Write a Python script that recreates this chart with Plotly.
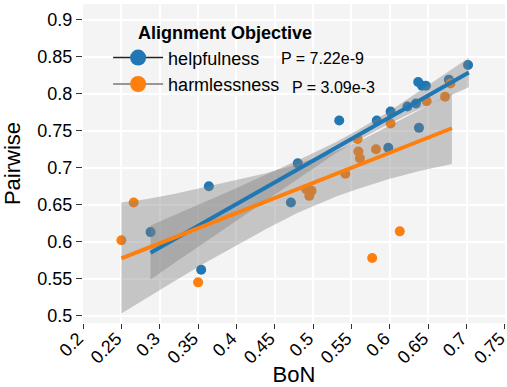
import plotly.graph_objects as go

# ---- data ----
help_x = [0.288, 0.364, 0.354, 0.480, 0.471, 0.534, 0.583, 0.598, 0.601, 0.623, 0.634, 0.638, 0.637, 0.642, 0.647, 0.677, 0.702]
help_y = [0.613, 0.675, 0.562, 0.706, 0.653, 0.764, 0.764, 0.727, 0.776, 0.783, 0.787, 0.754, 0.816, 0.811, 0.811, 0.819, 0.839]

harm_x = [0.250, 0.266, 0.350, 0.491, 0.498, 0.495, 0.542, 0.558, 0.559, 0.561, 0.582, 0.601, 0.648, 0.672, 0.679, 0.577, 0.613]
harm_y = [0.602, 0.653, 0.545, 0.671, 0.669, 0.662, 0.692, 0.739, 0.722, 0.713, 0.725, 0.760, 0.790, 0.796, 0.814, 0.578, 0.614]

help_fit_x = [0.288, 0.703]
help_fit_y = [0.585, 0.829]
harm_fit_x = [0.250, 0.681]
harm_fit_y = [0.5775, 0.7535]

help_band_x = [0.288, 0.32, 0.35, 0.39, 0.42, 0.46, 0.49, 0.53, 0.56, 0.60, 0.63, 0.67, 0.703]
help_band_lo = [0.549, 0.572, 0.593, 0.622, 0.643, 0.671, 0.692, 0.720, 0.738, 0.760, 0.775, 0.794, 0.809]
help_band_hi = [0.622, 0.636, 0.650, 0.668, 0.682, 0.701, 0.715, 0.735, 0.752, 0.777, 0.798, 0.826, 0.849]

harm_band_x = [0.250, 0.28, 0.32, 0.36, 0.40, 0.44, 0.48, 0.53, 0.56, 0.60, 0.64, 0.681]
harm_band_lo = [0.503, 0.522, 0.547, 0.572, 0.595, 0.618, 0.639, 0.661, 0.672, 0.685, 0.696, 0.705]
harm_band_hi = [0.653, 0.657, 0.665, 0.674, 0.683, 0.693, 0.705, 0.723, 0.736, 0.757, 0.779, 0.801]

series_names = ["helpfulness", "harmlessness"]
legend_title = "Alignment Objective"
p_labels = ["P = 7.22e-9", "P = 3.09e-3"]
x_ticks = [0.2, 0.25, 0.3, 0.35, 0.4, 0.45, 0.5, 0.55, 0.6, 0.65, 0.7, 0.75]
y_ticks = [0.5, 0.55, 0.6, 0.65, 0.7, 0.75, 0.8, 0.85, 0.9]

BLUE = "#1f77b4"
ORANGE = "#ff7f0e"
BAND = "rgba(128,128,128,0.4)"
FONT = "Liberation Sans, Arial, sans-serif"

fig = go.Figure()

# points first (bands drawn over them)
for xs, ys, c in [(help_x, help_y, BLUE), (harm_x, harm_y, ORANGE)]:
    fig.add_trace(go.Scatter(x=xs, y=ys, mode="markers", showlegend=False,
                             marker=dict(color=c, size=10, line=dict(width=0))))

# confidence bands
for bx, lo, hi in [(help_band_x, help_band_lo, help_band_hi), (harm_band_x, harm_band_lo, harm_band_hi)]:
    fig.add_trace(go.Scatter(x=bx + bx[::-1], y=hi + lo[::-1], mode="lines", fill="toself",
                             fillcolor=BAND, line=dict(width=0), showlegend=False, hoverinfo="skip"))

# fitted lines
for fx, fy, c in [(help_fit_x, help_fit_y, BLUE), (harm_fit_x, harm_fit_y, ORANGE)]:
    fig.add_trace(go.Scatter(x=fx, y=fy, mode="lines", showlegend=False,
                             line=dict(color=c, width=4)))

# legend entries
for name, c, lc in [(series_names[0], BLUE, "#222222"), (series_names[1], ORANGE, "#777777")]:
    fig.add_trace(go.Scatter(x=[None], y=[None], mode="lines+markers", name=name,
                             marker=dict(color=c, size=16), line=dict(color=lc, width=1.5)))

fig.add_annotation(x=0.126, y=0.909, xref="paper", yref="paper", text="<b>" + legend_title + "</b>",
                   showarrow=False, xanchor="left", yanchor="middle", font=dict(size=18))
fig.add_annotation(x=0.4656, y=0.829, xref="paper", yref="paper", text=p_labels[0],
                   showarrow=False, xanchor="left", yanchor="middle", font=dict(size=16))
fig.add_annotation(x=0.4916, y=0.738, xref="paper", yref="paper", text=p_labels[1],
                   showarrow=False, xanchor="left", yanchor="middle", font=dict(size=16))

fig.update_layout(
    width=507, height=387,
    margin=dict(l=83, r=2, t=4, b=64),
    paper_bgcolor="white", plot_bgcolor="#f4f4f4",
    font=dict(family=FONT, size=18, color="black"),
    legend=dict(x=0.0595, y=0.889, xanchor="left", yanchor="top",
                bgcolor="rgba(0,0,0,0)", itemwidth=50,
                font=dict(size=18), tracegroupgap=0),
    xaxis=dict(range=[0.1999, 0.7502], tickvals=x_ticks, ticktext=[f"{v:g}" for v in x_ticks],
               tickangle=-45, ticks="outside", ticklen=5, tickcolor="#333", tickwidth=1,
               ticklabeloverflow="allow", ticklabelshift=-5, ticklabelstandoff=-8,
               showgrid=True, gridcolor="white", gridwidth=1.5, zeroline=False,
               automargin=False, title=dict(text="BoN", standoff=12)),
    yaxis=dict(range=[0.490, 0.9216], tickvals=y_ticks, ticktext=[f"{v:g}" for v in y_ticks],
               ticks="outside", ticklen=6, tickcolor="#333", tickwidth=1,
               showgrid=True, gridcolor="white", gridwidth=1.5, zeroline=False,
               automargin=False, title=dict(text="Pairwise")),
)

fig.write_html("out.html")
